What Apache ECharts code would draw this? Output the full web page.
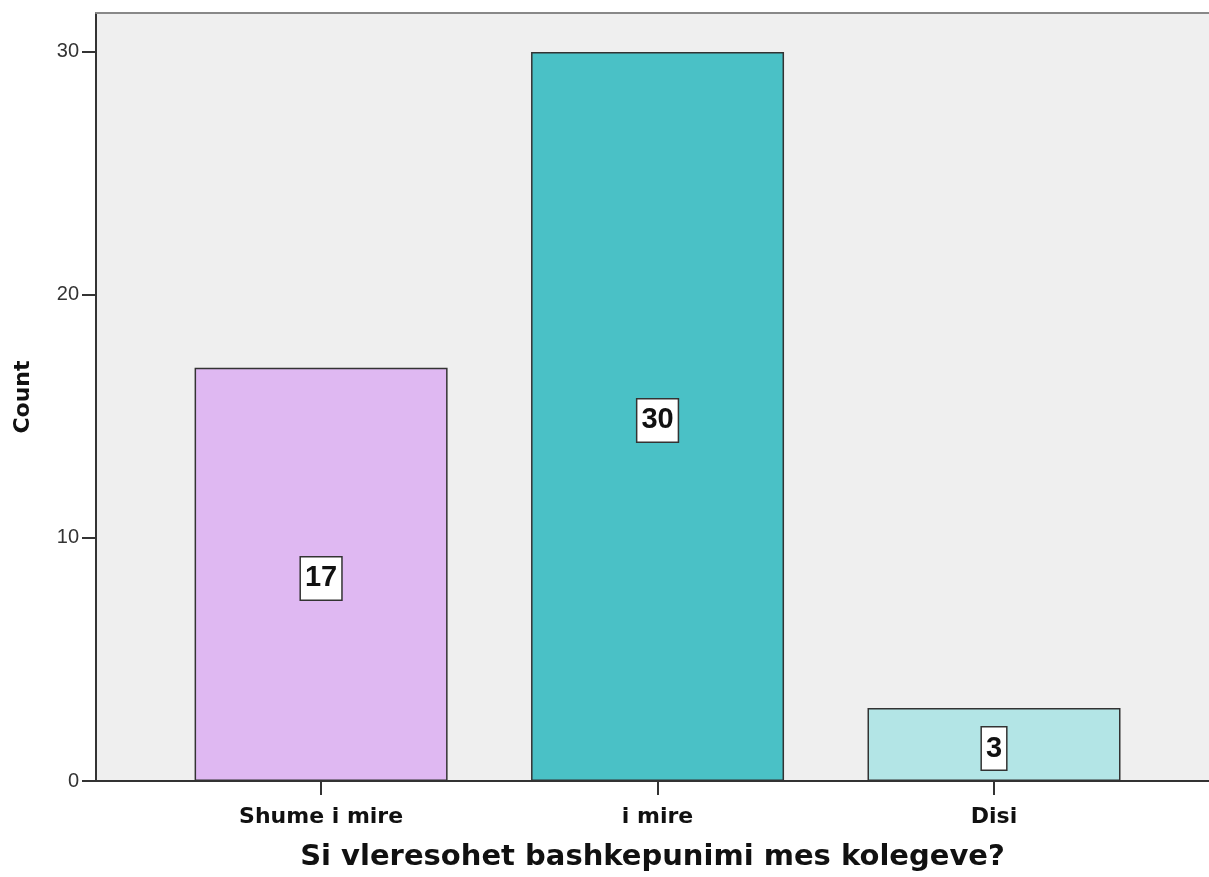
<!DOCTYPE html>
<html>
<head>
<meta charset="utf-8">
<script src="https://cdn.jsdelivr.net/npm/echarts@6/dist/echarts.min.js"></script>
<style>
  html, body { margin: 0; padding: 0; background: #ffffff; }
  #chart { width: 1209px; height: 877px; }
</style>
</head>
<body>
<div id="chart"></div>
<script>
// Responses to "Si vleresohet bashkepunimi mes kolegeve?"
const categories = ['Shume i mire', 'i mire', 'Disi'];
const counts = [17, 30, 3];
const barColors = ['#DFB8F2', '#4AC1C6', '#B3E5E6'];
const yTicks = [0, 10, 20, 30];

const chart = echarts.init(document.getElementById('chart'));

const bars = counts.map((v, i) => ({
  value: [i, v],
  itemStyle: { color: barColors[i] }
}));

chart.setOption({
  animation: false,
  backgroundColor: '#ffffff',
  grid: {
    left: 96, right: 0, top: 13, bottom: 91,
    show: true, backgroundColor: '#EFEFEF', borderWidth: 0
  },
  xAxis: [{
    type: 'value',
    min: -0.669,
    max: 2.639,
    position: 'bottom',
    splitLine: { show: false },
    axisLine: { show: true, onZero: false, lineStyle: { color: '#333333', width: 2 } },
    axisTick: {
      show: true, length: 14, customValues: [0, 1, 2],
      lineStyle: { color: '#333333', width: 2 }
    },
    axisLabel: {
      customValues: [0, 1, 2],
      formatter: v => categories[Math.round(v)] || '',
      margin: 25,
      color: '#111111',
      fontFamily: 'DejaVu Sans',
      fontWeight: 'bold',
      fontSize: 22
    },
    name: 'Si vleresohet bashkepunimi mes kolegeve?',
    nameLocation: 'middle',
    nameGap: 62,
    nameTextStyle: {
      color: '#111111',
      fontFamily: 'DejaVu Sans',
      fontWeight: 'bold',
      fontSize: 29
    }
  }, {
    type: 'value',
    min: -0.669,
    max: 2.639,
    position: 'top',
    splitLine: { show: false },
    axisLine: { show: true, onZero: false, lineStyle: { color: '#888888', width: 2 } },
    axisTick: { show: false },
    axisLabel: { show: false }
  }],
  yAxis: {
    type: 'value',
    min: 0,
    max: 31.6,
    splitLine: { show: false },
    axisLine: { show: true, onZero: false, lineStyle: { color: '#333333', width: 2 } },
    axisTick: {
      show: true, length: 14, customValues: yTicks,
      lineStyle: { color: '#333333', width: 2 }
    },
    axisLabel: {
      customValues: yTicks,
      margin: 17,
      color: '#333333',
      fontFamily: 'Liberation Sans, Arial, sans-serif',
      fontSize: 20
    },
    name: 'Count',
    nameLocation: 'middle',
    nameGap: 62,
    nameRotate: 90,
    nameTextStyle: {
      color: '#111111',
      fontFamily: 'DejaVu Sans',
      fontWeight: 'bold',
      fontSize: 22
    }
  },
  series: [{
    type: 'bar',
    xAxisIndex: 0,
    data: bars,
    barWidth: 253,
    itemStyle: { borderColor: '#333333', borderWidth: 1.5 },
    label: {
      show: true,
      position: 'inside',
      offset: [0, 4],
      formatter: p => String(p.value[1]),
      color: '#111111',
      fontFamily: 'Liberation Sans, Arial, sans-serif',
      fontWeight: 'bold',
      fontSize: 29,
      backgroundColor: '#ffffff',
      borderColor: '#333333',
      borderWidth: 1.5,
      padding: [6, 4, 5, 4],
      lineHeight: 31
    }
  }]
});
</script>
</body>
</html>
